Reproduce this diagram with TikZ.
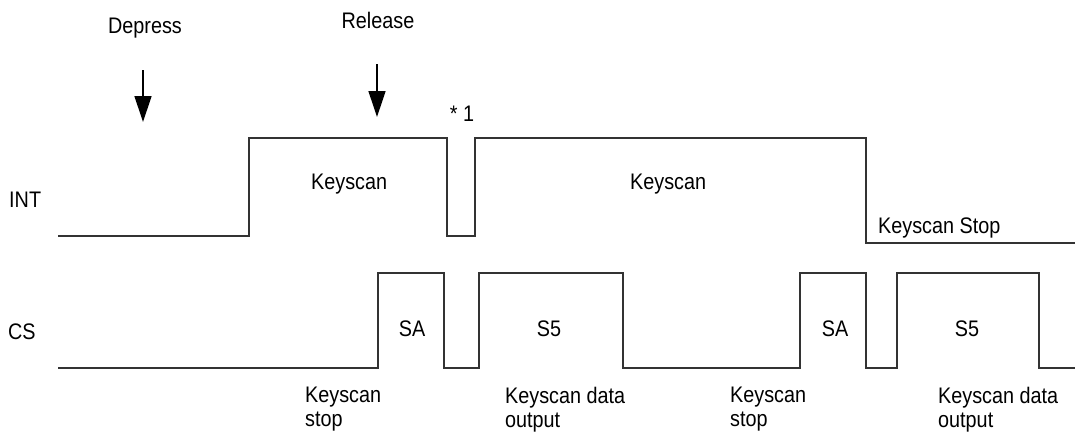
\documentclass[tikz,border=0pt]{standalone}
\usepackage{fontspec}
\setmainfont{Liberation Sans}[FakeStretch=0.88]
\usepackage{tikz}
\usetikzlibrary{arrows.meta}

\begin{document}
\begin{tikzpicture}[x=1pt, y=-1pt, every node/.style={font=\fontsize{22.5}{24}\selectfont, inner sep=0pt}]
  % Styles
  \tikzstyle{wave}=[line width=1.4pt, draw=black!80, line join=miter]
  \tikzstyle{press}=[-{Triangle[length=26pt, width=17pt]}, line width=1.3pt]
  \tikzstyle{signame}=[anchor=base west]
  \tikzstyle{pulsetext}=[anchor=base]
  \tikzstyle{note}=[anchor=north west, align=left]

  \useasboundingbox (0,0) rectangle (1079,437);

  % Key events
  \node[pulsetext] (depress) at (145,33) {Depress};
  \node[pulsetext] (release) at (378,28) {Release};
  \coordinate (depresstop) at (143,70);
  \coordinate (depressend) at (143,122);
  \coordinate (releasetop) at (377,64);
  \coordinate (releaseend) at (377,117);
  \draw[press] (depresstop) -- (depressend);
  \draw[press] (releasetop) -- (releaseend);

  % INT signal
  \node[signame] (int) at (9,207) {INT};
  \draw[wave] (58,236) -- (249,236) -- (249,138) -- (447,138) -- (447,236) -- (475,236)
    -- (475,138) -- (866,138) -- (866,243) -- (1075,243);
  \node[pulsetext] (mark) at (462,121) {* 1};
  \node[signame] (scanA) at (311,189) {Keyscan};
  \node[signame] (scanB) at (630,189) {Keyscan};
  \node[signame] (scanstop) at (878,233) {Keyscan Stop};

  % CS signal
  \node[signame] (cs) at (8,339) {CS};
  \draw[wave] (58,368) -- (378,368) -- (378,273) -- (444,273) -- (444,368) -- (479,368)
    -- (479,273) -- (623,273) -- (623,368) -- (800,368) -- (800,273) -- (866,273)
    -- (866,368) -- (897,368) -- (897,273) -- (1039,273) -- (1039,368) -- (1075,368);
  \node[pulsetext] (saA) at (412,336) {SA};
  \node[pulsetext] (sfA) at (549,336) {S5};
  \node[pulsetext] (saB) at (835,336) {SA};
  \node[pulsetext] (sfB) at (967,336) {S5};

  % Notes below CS
  \node[note] (stopA) at (305,387) {Keyscan\\stop};
  \node[note] (dataA) at (505,387) {Keyscan data\\output};
  \node[note] (stopB) at (730,387) {Keyscan\\stop};
  \node[note] (dataB) at (938,387) {Keyscan data\\output};
\end{tikzpicture}
\end{document}
